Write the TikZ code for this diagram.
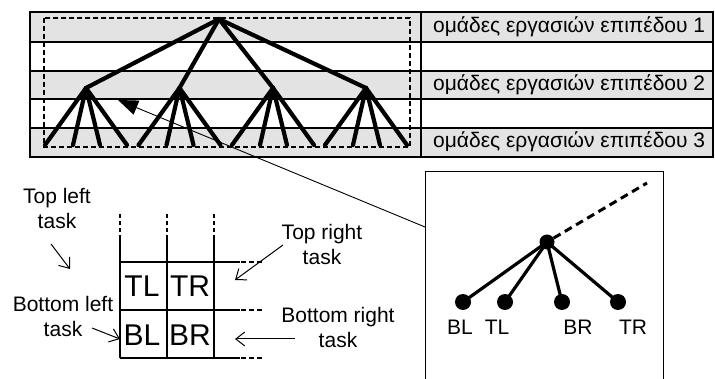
\documentclass[tikz,border=0pt]{standalone}
\usepackage{fontspec}
\setmainfont{Liberation Sans}
\usetikzlibrary{arrows.meta}
\definecolor{band}{gray}{0.89}
\tikzset{
  frame/.style={line width=1.8pt},
  branch/.style={line width=4.2pt, line cap=round},
  thin/.style={line width=0.9pt},
  dot/.style={circle, fill=black, inner sep=0pt, minimum size=15pt},
  lbl/.style={font=\fontsize{21}{25}\selectfont, align=center, inner sep=0pt},
  cell/.style={font=\fontsize{30}{30}\selectfont, inner sep=0pt},
  pointer/.style={line width=1pt, -{Straight Barb[length=9pt,width=14pt,line width=1pt]}},
}
\begin{document}
\begin{tikzpicture}[x=1pt, y=-1pt]
\useasboundingbox (0,0) rectangle (715,379);

% level bands of the task table
\fill[band] (30,12) rectangle (713,42);
\fill[band] (30,71) rectangle (713,99);
\fill[band] (30,128) rectangle (713,157);
\draw[frame] (30,12) rectangle (713,157);
\foreach \y in {42,71,99,128} \draw[frame] (30,\y) -- (713,\y);
\draw[frame] (421,12) -- (421,157);

\node[lbl, anchor=west] (g1) at (433,27) {ομάδες εργασιών επιπέδου 1};
\node[lbl, anchor=west] (g2) at (433,85) {ομάδες εργασιών επιπέδου 2};
\node[lbl, anchor=west] (g3) at (433,142) {ομάδες εργασιών επιπέδου 3};

% dashed outline around the task tree
\draw[line width=1.4pt, dash pattern=on 5pt off 3pt] (44,18) rectangle (410,147);

% task tree
\coordinate (root) at (219,19);
\foreach \i/\px in {1/86,2/179.5,3/273,4/366} {
  \coordinate (p\i) at (\px,88);
  \draw[branch] (root) -- (p\i);
  \foreach \j/\dx in {1/-41,2/-13,3/14,4/41} {
    \coordinate (l\i\j) at (\px+\dx,145);
    \draw[branch] (p\i) -- (l\i\j);
  }
}

% detail box for one group
\draw[thin] (425,171) rectangle (663,390);
\coordinate (boxedge) at (425,227);
\coordinate (target) at (118,100);
\draw[thin, -{Triangle[length=20pt,width=15pt]}] (boxedge) -- (target);

\node[dot] (top) at (547,242) {};
\node[dot, minimum size=16pt] (bl) at (463,302) {};
\node[dot, minimum size=16pt] (tl) at (505,302) {};
\node[dot, minimum size=16pt] (br) at (562,302) {};
\node[dot, minimum size=16pt] (tr) at (618,302) {};
\coordinate (up) at (647,183);
\draw[line width=3pt, dash pattern=on 8pt off 5pt] (top) -- (up);
\foreach \n in {bl,tl,br,tr} \draw[line width=3.2pt] (top.center) -- (\n.center);
\node[lbl] (tbl) at (460,327) {BL};
\node[lbl] (ttl) at (497,327) {TL};
\node[lbl] (tbr) at (578,327) {BR};
\node[lbl] (ttr) at (633,327) {TR};

% quadrant grid
\foreach \x in {120,167,214} {
  \draw[line width=1.5pt] (\x,237) -- (\x,358);
  \draw[line width=1.5pt, dash pattern=on 4pt off 3pt] (\x,214) -- (\x,237);
}
\foreach \y in {262,310,358} {
  \draw[line width=1.5pt] (120,\y) -- (240,\y);
  \draw[line width=1.5pt, dash pattern=on 5pt off 3pt] (241,\y) -- (263,\y);
}
\node[cell] (cTL) at (142,286) {TL};
\node[cell] (cTR) at (190,286) {TR};
\node[cell] (cBL) at (142,335) {BL};
\node[cell] (cBR) at (190,335) {BR};

% quadrant labels
\node[lbl] (qtl) at (57,208) {Top left\\task};
\node[lbl] (qtr) at (322,244) {Top right\\task};
\node[lbl] (qbl) at (63,316) {Bottom left\\task};
\node[lbl] (qbr) at (338,327) {Bottom right\\task};
\coordinate (a1s) at (51,244); \coordinate (a1e) at (70,269);
\coordinate (a2s) at (283,245); \coordinate (a2e) at (235,280);
\coordinate (a3s) at (92,328); \coordinate (a3e) at (120,339);
\coordinate (a4s) at (295,339); \coordinate (a4e) at (235,339);
\draw[pointer] (a1s) -- (a1e);
\draw[pointer] (a2s) -- (a2e);
\draw[pointer] (a3s) -- (a3e);
\draw[pointer] (a4s) -- (a4e);
\end{tikzpicture}
\end{document}
